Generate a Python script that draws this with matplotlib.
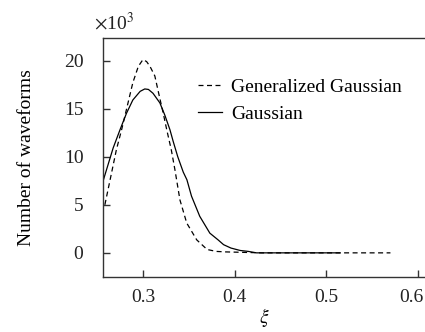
import matplotlib

matplotlib.use("Agg")
import matplotlib.pyplot as plt
import matplotlib.transforms as mtransforms


# ------------------------------------------------------------
# Values (counts in thousands)
# ------------------------------------------------------------
gauss_xi = [0.256, 0.2675, 0.275, 0.282, 0.289, 0.297, 0.302, 0.306, 0.311,
            0.3185, 0.324, 0.3295, 0.333, 0.338, 0.344, 0.348, 0.353, 0.362,
            0.373, 0.382, 0.388, 0.396, 0.406, 0.415, 0.424, 0.46, 0.515]
gauss_count = [7.3, 10.9, 12.8, 14.5, 15.9, 16.8, 17.05, 17.0, 16.6,
               15.6, 14.3, 12.8, 11.6, 10.0, 8.4, 7.6, 5.9, 3.8,
               2.05, 1.35, 0.85, 0.5, 0.25, 0.15, 0.0, 0.0, 0.0]

gen_xi = [0.2585, 0.264, 0.271, 0.277, 0.282, 0.289, 0.295, 0.300, 0.304,
          0.3077, 0.313, 0.3186, 0.322, 0.326, 0.331, 0.335, 0.3404, 0.3478,
          0.3587, 0.370, 0.380, 0.390, 0.410, 0.430, 0.52, 0.57]
gen_count = [5.0, 7.5, 10.7, 12.9, 14.9, 17.7, 19.4, 20.1, 19.9,
             19.4, 18.4, 16.0, 14.6, 12.8, 10.7, 8.6, 5.5, 3.1,
             1.35, 0.35, 0.15, 0.1, 0.05, 0.0, 0.0, 0.0]

x_ticks = [0.3, 0.4, 0.5, 0.6]
y_ticks = [0, 5, 10, 15, 20]
series_labels = ["Generalized Gaussian", "Gaussian"]


def main() -> None:
    plt.rcParams["font.family"] = ["Liberation Serif", "DejaVu Serif"]
    plt.rcParams["mathtext.fontset"] = "stix"
    plt.rcParams["font.size"] = 14

    fig = plt.figure(figsize=(4.25, 3.32), dpi=100)
    ax = fig.add_axes([0.242, 0.166, 0.758, 0.721])

    ax.plot(gen_xi, gen_count, color="black", lw=0.9,
            linestyle=(0, (4, 2.8)), label=series_labels[0])
    ax.plot(gauss_xi, gauss_count, color="black", lw=0.9,
            label=series_labels[1])

    ax.set_xlim(0.2563, 0.6077)
    ax.set_ylim(-2.5, 22.4)
    ax.set_xticks(x_ticks)
    ax.set_xticklabels([f"{v:.1f}" for v in x_ticks])
    ax.set_yticks(y_ticks)

    for side in ("left", "bottom", "top"):
        ax.spines[side].set_color("#333333")
        ax.spines[side].set_linewidth(1.0)
    ax.spines["right"].set_visible(False)

    ax.tick_params(axis="both", direction="in", length=5, width=1.0,
                   color="#333333", labelcolor="#222222")
    ax.tick_params(axis="x", pad=9)
    ax.tick_params(axis="y", pad=14)

    # last x label sits a little left so it stays inside the figure
    shift = mtransforms.ScaledTranslation(-7 / 100, 0, fig.dpi_scale_trans)
    last = ax.get_xticklabels()[-1]
    last.set_transform(last.get_transform() + shift)

    ax.set_xlabel(r"$\xi$", labelpad=0)
    ax.set_ylabel("Number of waveforms", labelpad=21)

    fig.text(0.222, 0.91, r"$\times$10$^3$", fontsize=14, color="#222222")

    ax.legend(loc="upper left", bbox_to_anchor=(0.295, 0.828),
              frameon=False, borderpad=0, borderaxespad=0,
              handlelength=1.25, handletextpad=0.45, labelspacing=0.45)

    fig.savefig("out.png", dpi=100)
    plt.close(fig)


if __name__ == "__main__":
    main()
